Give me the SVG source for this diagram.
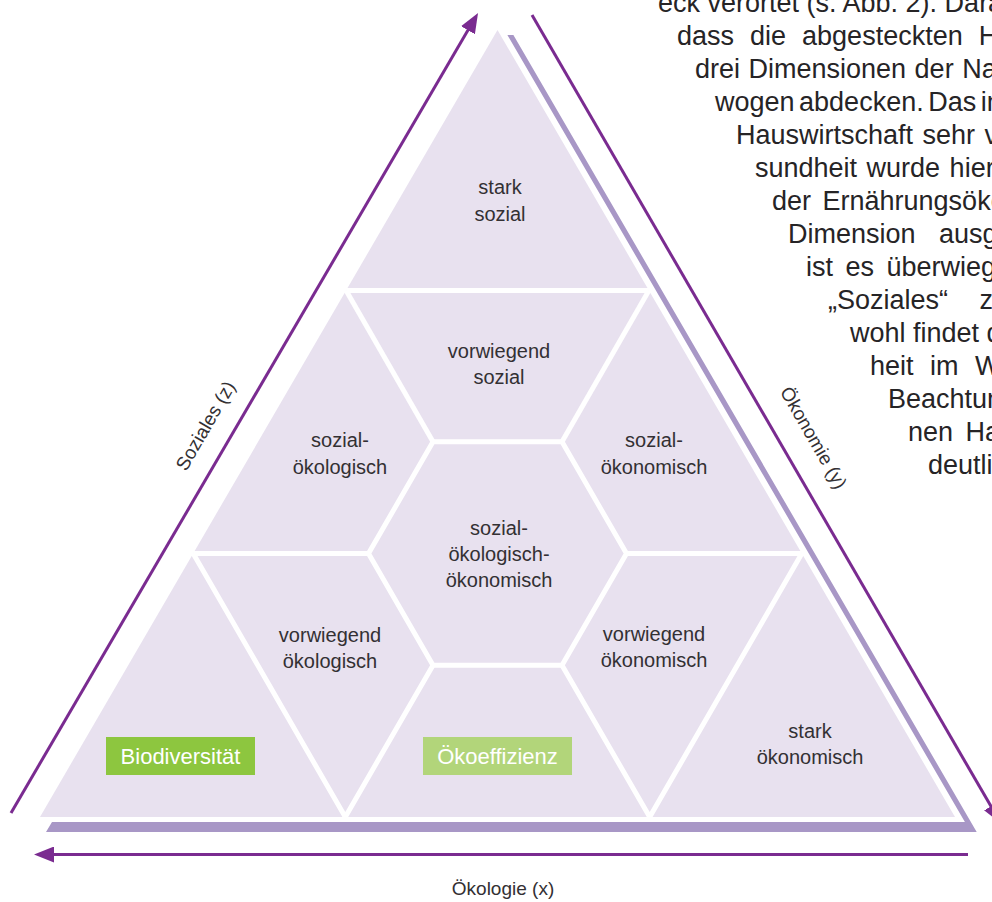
<svg xmlns="http://www.w3.org/2000/svg" width="992" height="902" viewBox="0 0 992 902">
  <defs>
    <style>
      .cell { font-family: "Liberation Sans", Arial, sans-serif; font-size: 20px; fill: #333033; text-anchor: middle; }
      .axis { font-family: "Liberation Sans", Arial, sans-serif; font-size: 19px; fill: #333033; text-anchor: middle; }
      .tag { font-family: "Liberation Sans", Arial, sans-serif; font-size: 22px; fill: #ffffff; text-anchor: middle; }
      .body { font-family: "Liberation Sans", Arial, sans-serif; font-size: 27px; fill: #262426; }
      .divider { fill: none; stroke: #ffffff; stroke-width: 5; stroke-linejoin: miter; }
      .axisline { fill: none; stroke: #7a2b90; stroke-width: 3; }
    </style>
    <marker id="arrow" viewBox="0 0 20 16" refX="10" refY="8" markerWidth="20" markerHeight="16" markerUnits="userSpaceOnUse" orient="auto">
      <path d="M0,0 L20,8 L0,16 Z" fill="#7a2b90"/>
    </marker>
  </defs>

  <rect width="992" height="902" fill="#ffffff"/>

  <!-- running body text beside the figure (justified lines, running off the right edge) -->
  <g id="bodytext" class="body">
    <text x="658" y="12">eck verortet (s. Abb. 2). Dara</text>
    <text x="677" y="45" word-spacing="8.5">dass die abgesteckten H</text>
    <text x="695" y="78" word-spacing="1">drei Dimensionen der Na</text>
    <text x="715" y="111" word-spacing="-3">wogen abdecken. Das in</text>
    <text x="736" y="144" word-spacing="2">Hauswirtschaft sehr v</text>
    <text x="755" y="177" word-spacing="2">sundheit wurde hier</text>
    <text x="772" y="210" word-spacing="4">der Ernährungsöko</text>
    <text x="788" y="243" word-spacing="16">Dimension ausg</text>
    <text x="806" y="276" word-spacing="5">ist es überwieg</text>
    <text x="828" y="309" word-spacing="24">„Soziales“ z</text>
    <text x="850" y="342">wohl findet d</text>
    <text x="870" y="375" word-spacing="9">heit im W</text>
    <text x="888" y="408">Beachtun</text>
    <text x="908" y="441" word-spacing="5">nen Ha</text>
    <text x="928" y="474">deutli</text>
  </g>

  <!-- triangle base shape with shadow band on right and bottom -->
  <g id="triangle">
    <polygon points="507.4,35 513.4,35 976.7,832 46,832 52,822 964.9,822" fill="#a897c6"/>
    <polygon points="497.5,30 955,817 40,817" fill="#e8e1ef"/>
  </g>

  <!-- cell dividers -->
  <g id="dividers" class="divider">
    <line x1="346.1" y1="290.5" x2="648.9" y2="290.5"/>
    <line x1="346.1" y1="290.5" x2="433" y2="441.8"/>
    <line x1="648.9" y1="290.5" x2="562" y2="441.8"/>
    <polygon points="368.5,553.5 433,441.8 562,441.8 626.5,553.5 562,665.2 433,665.2"/>
    <line x1="193.2" y1="553.5" x2="368.5" y2="553.5"/>
    <line x1="626.5" y1="553.5" x2="801.8" y2="553.5"/>
    <polyline points="193.2,553.5 345.3,817 433,665.2"/>
    <polyline points="801.8,553.5 649.7,817 562,665.2"/>
  </g>

  <!-- cells -->
  <g id="stark-sozial" class="cell">
    <text x="500" y="194">stark</text>
    <text x="500" y="221">sozial</text>
  </g>
  <g id="vorwiegend-sozial" class="cell">
    <text x="499" y="358">vorwiegend</text>
    <text x="499" y="384">sozial</text>
  </g>
  <g id="sozial-oekologisch" class="cell">
    <text x="340" y="447">sozial-</text>
    <text x="340" y="474">ökologisch</text>
  </g>
  <g id="sozial-oekonomisch" class="cell">
    <text x="654" y="447">sozial-</text>
    <text x="654" y="474">ökonomisch</text>
  </g>
  <g id="sozial-oekologisch-oekonomisch" class="cell">
    <text x="499" y="535">sozial-</text>
    <text x="499" y="561">ökologisch-</text>
    <text x="499" y="587">ökonomisch</text>
  </g>
  <g id="vorwiegend-oekologisch" class="cell">
    <text x="330" y="642">vorwiegend</text>
    <text x="330" y="668">ökologisch</text>
  </g>
  <g id="vorwiegend-oekonomisch" class="cell">
    <text x="654" y="641">vorwiegend</text>
    <text x="654" y="667">ökonomisch</text>
  </g>
  <g id="stark-oekonomisch" class="cell">
    <text x="810" y="738">stark</text>
    <text x="810" y="764">ökonomisch</text>
  </g>
  <g id="biodiversitaet">
    <rect x="106" y="737" width="149" height="38" fill="#8dc63f"/>
    <text class="tag" x="180.5" y="764">Biodiversität</text>
  </g>
  <g id="oekoeffizienz">
    <rect x="423" y="737" width="149" height="38" fill="#b2d57a"/>
    <text class="tag" x="497.5" y="764">Ökoeffizienz</text>
  </g>

  <!-- axes -->
  <g id="axes" class="axisline">
    <line x1="11" y1="813" x2="473" y2="21.6" marker-end="url(#arrow)"/>
    <line x1="532" y1="15" x2="996" y2="815" marker-end="url(#arrow)"/>
    <line x1="968" y1="854.5" x2="44" y2="854.5" marker-end="url(#arrow)"/>
  </g>
  <g id="axis-labels" class="axis">
    <text x="503" y="895">Ökologie (x)</text>
    <text transform="translate(211,429) rotate(-60)">Soziales (z)</text>
    <text transform="translate(808,441) rotate(60)">Ökonomie (y)</text>
  </g>
</svg>
